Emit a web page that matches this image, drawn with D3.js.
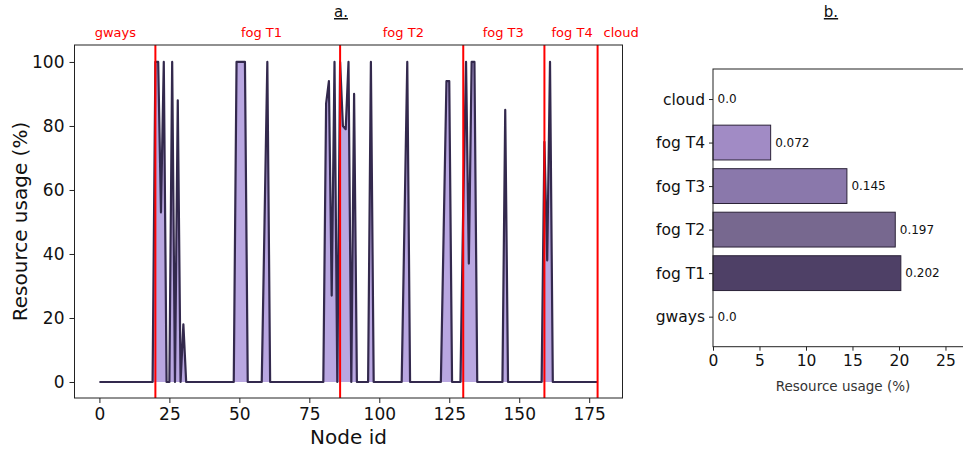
<!DOCTYPE html>
<html>
<head>
<meta charset="utf-8">
<script src="https://cdn.jsdelivr.net/npm/d3@7"></script>
<style>
  body { margin: 0; background: #fff; }
  svg { display: block; font-family: "DejaVu Sans", sans-serif; }
</style>
</head>
<body>
<svg id="chart" width="963" height="450"></svg>
<script>
// ---------- DATA ----------
// Panel a: resource usage (%) per node id (0..178)
const usage = [
  0,0,0,0,0,0,0,0,0,0,0,0,0,0,0,0,0,0,0,0,
  100,100,53,100,0,0,100,0,88,0,18,0,0,0,0,0,0,0,0,0,
  0,0,0,0,0,0,0,0,0,100,100,100,100,0,0,0,0,0,0,50,
  100,0,0,0,0,0,0,0,0,0,0,0,0,0,0,0,0,0,0,0,
  0,87,94,27,100,0,100,80,79,100,0,90,0,0,0,0,0,100,0,0,
  0,0,0,0,0,0,0,0,0,50,100,0,0,0,0,0,0,0,0,0,
  0,0,0,47,94,94,0,0,0,0,55,100,37,100,100,0,0,0,0,0,
  0,0,0,0,0,85,0,0,0,0,0,0,0,0,0,0,0,0,0,75,
  38,100,0,0,0,0,0,0,0,0,0,0,0,0,0,0,0,0,0
];
const tierBoundaries = [20, 86, 130, 159, 178];
const tierLabels = ["gways", "fog T1", "fog T2", "fog T3", "fog T4", "cloud"];
const tierLabelPos = [5.7, 57.9, 108.6, 144.3, 168.9, 186.4];
const xTicksA = [0, 25, 50, 75, 100, 125, 150, 175];
const yTicksA = [0, 20, 40, 60, 80, 100];

// Panel b: resource usage per tier
const tiers = ["gways", "fog T1", "fog T2", "fog T3", "fog T4", "cloud"];
const tierUsage = [0, 20.2, 19.6, 14.4, 6.2, 0];
const tierText = ["0.0", "0.202", "0.197", "0.145", "0.072", "0.0"];
const tierColors = ["#ffffff", "#4e4066", "#77688f", "#8a78ab", "#a18bc5", "#ffffff"];
const xTicksB = [0, 5, 10, 15, 20, 25];

// ---------- DRAW ----------
const svg = d3.select("#chart");
const axisColor = "#222";

// ===== Panel a =====
const L = 74.5, R = 622.5, T = 45, B = 398;
const x = d3.scaleLinear().domain([-8.9, 186.9]).range([L, R]);
const y = d3.scaleLinear().domain([-5, 105.3]).range([B, T]);

const gA = svg.append("g");
const pts = usage.map((v, i) => [i, v]);

gA.append("path")
  .datum(pts)
  .attr("fill", "#b9a7e1")
  .attr("d", d3.area().x(d => x(d[0])).y0(y(0)).y1(d => y(d[1])));

gA.append("path")
  .datum(pts)
  .attr("fill", "none")
  .attr("stroke", "#33294d")
  .attr("stroke-width", 2.2)
  .attr("stroke-linejoin", "round")
  .attr("d", d3.line().x(d => x(d[0])).y(d => y(d[1])));

gA.selectAll("line.tier")
  .data(tierBoundaries)
  .join("line")
  .attr("class", "tier")
  .attr("x1", d => x(d)).attr("x2", d => x(d))
  .attr("y1", T).attr("y2", B)
  .attr("stroke", "#ff0000")
  .attr("stroke-width", 2);

gA.append("rect")
  .attr("x", L).attr("y", T).attr("width", R - L).attr("height", B - T)
  .attr("fill", "none").attr("stroke", axisColor).attr("stroke-width", 1);

const xAxisA = gA.append("g").attr("transform", `translate(0,${B})`)
  .call(d3.axisBottom(x).tickValues(xTicksA).tickSize(5).tickPadding(5).tickFormat(d3.format("d")));
const yAxisA = gA.append("g").attr("transform", `translate(${L},0)`)
  .call(d3.axisLeft(y).tickValues(yTicksA).tickSize(5).tickPadding(5).tickFormat(d3.format("d")));
[xAxisA, yAxisA].forEach(a => {
  a.select(".domain").remove();
  a.selectAll("line").attr("stroke", axisColor);
  a.selectAll("text").attr("font-size", 17).attr("fill", "#111").attr("font-family", "DejaVu Sans");
});

gA.selectAll("text.tl")
  .data(tierLabels)
  .join("text")
  .attr("class", "tl")
  .attr("x", (d, i) => x(tierLabelPos[i]))
  .attr("y", 37)
  .attr("text-anchor", "middle")
  .attr("fill", "#ff0000")
  .attr("font-size", 13)
  .text(d => d);

gA.append("text")
  .attr("x", (L + R) / 2).attr("y", 444)
  .attr("text-anchor", "middle").attr("font-size", 20).attr("fill", "#111")
  .text("Node id");
gA.append("text")
  .attr("transform", `translate(27,${(T + B) / 2}) rotate(-90)`)
  .attr("text-anchor", "middle").attr("font-size", 20).attr("fill", "#111")
  .text("Resource usage (%)");

gA.append("text")
  .attr("x", 341).attr("y", 17)
  .attr("text-anchor", "middle").attr("font-size", 15).attr("fill", "#111")
  .attr("text-decoration", "underline")
  .text("a.");

// ===== Panel b =====
const L2 = 713, T2 = 69, B2 = 346.7;
const x2 = d3.scaleLinear().domain([0, 27.1]).range([L2, 965]);
const y2 = d3.scaleLinear().domain([-0.69, 5.69]).range([B2, T2]);
const bandH = y2(0) - y2(0.8);

const gB = svg.append("g");
const barData = tiers.map((t, i) => ({ i, t, v: tierUsage[i], label: tierText[i], color: tierColors[i] }));

gB.selectAll("rect.bar")
  .data(barData.filter(d => d.v > 0))
  .join("rect")
  .attr("class", "bar")
  .attr("x", x2(0))
  .attr("y", d => y2(d.i + 0.4))
  .attr("width", d => x2(d.v) - x2(0))
  .attr("height", bandH)
  .attr("fill", d => d.color)
  .attr("stroke", "#2b2238")
  .attr("stroke-width", 1);

gB.selectAll("text.val")
  .data(barData)
  .join("text")
  .attr("class", "val")
  .attr("x", d => x2(d.v) + 4.5)
  .attr("y", d => y2(d.i) + 4)
  .attr("font-size", 12)
  .attr("fill", "#111")
  .text(d => d.label);

gB.append("rect")
  .attr("x", L2).attr("y", T2).attr("width", 965 - L2 + 5).attr("height", B2 - T2)
  .attr("fill", "none").attr("stroke", axisColor).attr("stroke-width", 1);

const xAxisB = gB.append("g").attr("transform", `translate(0,${B2})`)
  .call(d3.axisBottom(x2).tickValues(xTicksB).tickSize(4).tickPadding(4).tickFormat(d3.format("d")));
const yAxisB = gB.append("g").attr("transform", `translate(${L2},0)`)
  .call(d3.axisLeft(y2).tickValues(d3.range(tiers.length)).tickSize(4).tickPadding(4).tickFormat(i => tiers[i]));
[xAxisB, yAxisB].forEach(a => {
  a.select(".domain").remove();
  a.selectAll("line").attr("stroke", axisColor);
  a.selectAll("text").attr("font-size", 15.5).attr("fill", "#111").attr("font-family", "DejaVu Sans");
});

gB.append("text")
  .attr("x", 843).attr("y", 391)
  .attr("text-anchor", "middle").attr("font-size", 13.5).attr("fill", "#333")
  .text("Resource usage (%)");

gB.append("text")
  .attr("x", 831).attr("y", 17)
  .attr("text-anchor", "middle").attr("font-size", 15).attr("fill", "#111")
  .attr("text-decoration", "underline")
  .text("b.");
</script>
</body>
</html>
